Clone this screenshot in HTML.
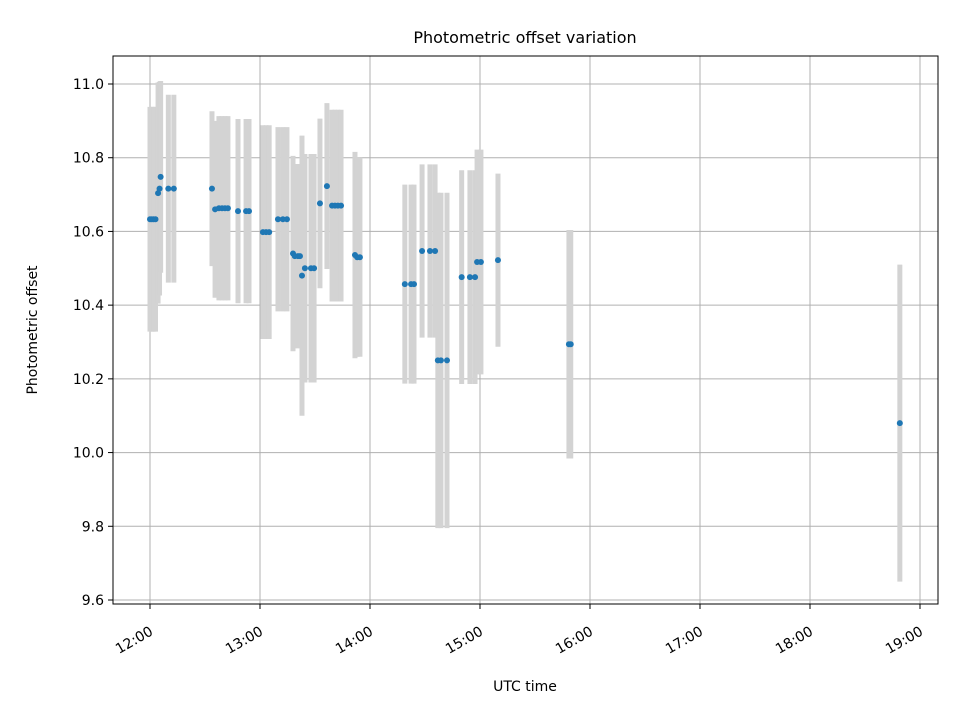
<!DOCTYPE html>
<html><head><meta charset="utf-8"><style>
body{margin:0;background:#fff;}
text{font-family:"DejaVu Sans","Liberation Sans",sans-serif;fill:#000;}
</style></head><body>
<svg id="chart" width="960" height="720" xmlns="http://www.w3.org/2000/svg">
<rect width="960" height="720" fill="#fff"/>
<text x="525" y="43" font-size="16" text-anchor="middle">Photometric offset variation</text>
<g id="grid"></g>
<g id="errs"></g>
<g id="pts"></g>
<rect x="113" y="56" width="825" height="548" fill="none" stroke="#000" stroke-width="1"/>
<g id="ticks"></g>
<text x="525" y="691" font-size="14" text-anchor="middle">UTC time</text>
<text transform="translate(37,330) rotate(-90)" font-size="14" text-anchor="middle">Photometric offset</text>
</svg>
<script>
// minutes after 12:00 UTC
const times=[0,1,2,3,4.4,5.2,5.8,10,13,33.8,35.5,37.6,39.3,40.9,42.5,48,52.4,54,61.6,63.3,65,69.8,72.5,74.7,78,79,80.7,81.8,82.9,84.5,87.8,89.5,92.7,96.5,99.3,100.9,102.5,104.2,111.8,113,114.5,139,142.4,144,148.4,152.7,155.5,157,158.7,162,170,174.5,177.3,178.4,180.5,189.8,228.5,229.5,409];
const offsets=[10.633,10.633,10.633,10.633,10.704,10.716,10.748,10.716,10.716,10.716,10.66,10.663,10.663,10.663,10.663,10.655,10.655,10.655,10.598,10.598,10.598,10.633,10.633,10.633,10.54,10.533,10.533,10.533,10.48,10.50,10.50,10.50,10.676,10.723,10.67,10.67,10.67,10.67,10.536,10.53,10.53,10.457,10.457,10.457,10.547,10.547,10.547,10.25,10.25,10.25,10.476,10.476,10.476,10.517,10.517,10.522,10.294,10.294,10.08];
const errors=[0.305,0.305,0.305,0.305,0.30,0.29,0.26,0.255,0.255,0.21,0.24,0.25,0.25,0.25,0.25,0.25,0.25,0.25,0.29,0.29,0.29,0.25,0.25,0.25,0.265,0.25,0.25,0.25,0.38,0.31,0.31,0.31,0.23,0.225,0.26,0.26,0.26,0.26,0.28,0.27,0.27,0.27,0.27,0.27,0.235,0.235,0.235,0.455,0.455,0.455,0.29,0.29,0.29,0.305,0.305,0.235,0.31,0.31,0.43];
const yTicks=[9.6,9.8,10.0,10.2,10.4,10.6,10.8,11.0];
const xTickLabels=["12:00","13:00","14:00","15:00","16:00","17:00","18:00","19:00"];
const NS="http://www.w3.org/2000/svg";
const X=m=>150+m*110/60;
const Y=v=>84+(11-v)*368.57;
function mk(tag,attrs,parent){const e=document.createElementNS(NS,tag);for(const k in attrs)e.setAttribute(k,attrs[k]);parent.appendChild(e);return e;}
const grid=document.getElementById('grid'),ticks=document.getElementById('ticks');
yTicks.forEach(v=>{const y=Y(v);
 const g=mk('line',{x1:113,x2:938,y1:y,y2:y,stroke:'#b0b0b0','stroke-width':1},grid);
 
 
 mk('line',{x1:108,x2:113,y1:y,y2:y,stroke:'#000'},ticks);
 const t=mk('text',{x:104,y:y+5,'font-size':14,'text-anchor':'end'},ticks);t.textContent=v.toFixed(1);
 
 
});
xTickLabels.forEach((s,i)=>{const x=X(i*60);
 const g=mk('line',{x1:x,x2:x,y1:56,y2:604,stroke:'#b0b0b0','stroke-width':1},grid);
 
 
 mk('line',{x1:x,x2:x,y1:604,y2:609,stroke:'#000'},ticks);
 const ax=x+4, ay=634;
 const t=mk('text',{x:ax,y:ay,'font-size':14,'text-anchor':'end',transform:`rotate(-30 ${ax} ${ay})`},ticks);t.textContent=s;
 
 
});
const errs=document.getElementById('errs'),pts=document.getElementById('pts');
times.forEach((m,i)=>{const x=X(m);
 const l=mk('line',{x1:x,x2:x,y1:Y(offsets[i]+errors[i]),y2:Y(offsets[i]-errors[i]),stroke:'#d3d3d3','stroke-width':5},errs);
 
 
});
times.forEach((m,i)=>{
 const c=mk('circle',{cx:X(m),cy:Y(offsets[i]),r:3,fill:'#1f77b4'},pts);
 
 
});
</script>
</body></html>
